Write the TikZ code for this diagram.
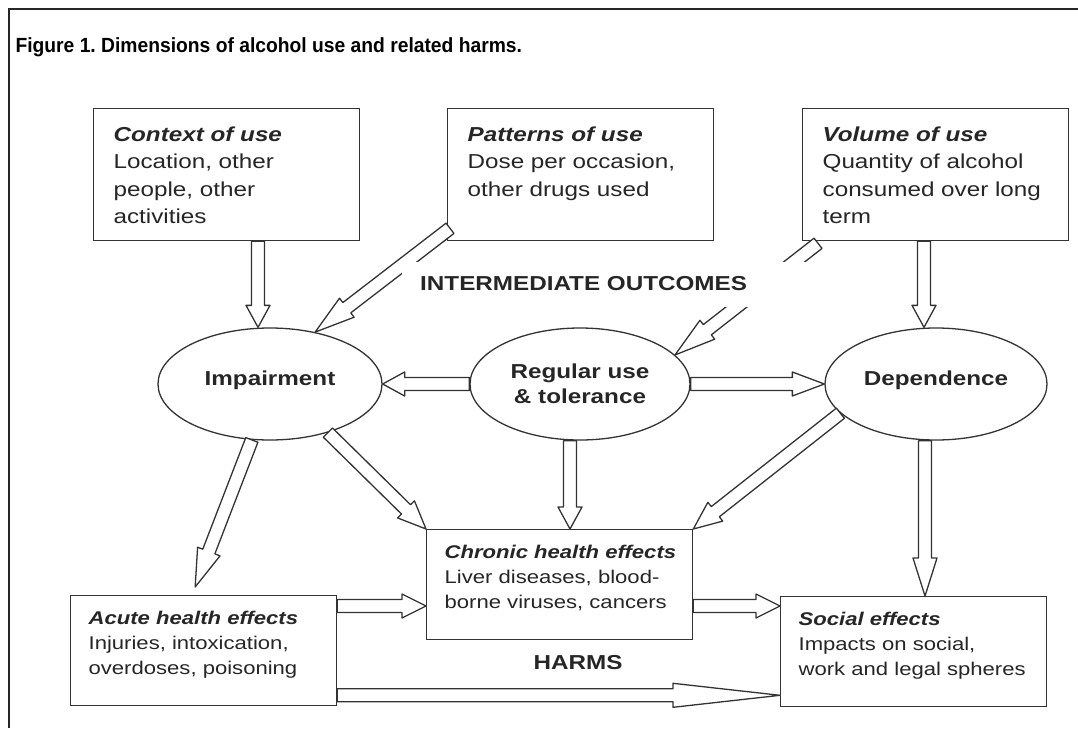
\documentclass[tikz,border=0pt]{standalone}
\usepackage{fontspec}
\setmainfont{Liberation Sans}[FakeStretch=1.2]
\newfontfamily\titlefont{Liberation Sans}[FakeStretch=0.94]
\usepackage{tikz}
\usetikzlibrary{positioning, shapes.geometric, calc}
\frenchspacing

\newcommand{\boxtitle}[1]{\mbox{\textbf{\textit{#1}}}}
\newcommand{\hollowarrow}[3][22pt]{%
  \draw[blockarrow] ($(#2)!6.5pt!90:(#3)$)
    -- ($(#3)!#1!(#2)!6.5pt!-90:(#2)$)
    -- ($(#3)!#1!(#2)!12pt!-90:(#2)$)
    -- (#3)
    -- ($(#3)!#1!(#2)!12pt!90:(#2)$)
    -- ($(#3)!#1!(#2)!6.5pt!90:(#2)$)
    -- ($(#2)!6.5pt!-90:(#3)$) -- cycle;}

\begin{document}
\begin{tikzpicture}[x=1pt, y=-1pt, text=black!85,
    box/.style={draw=black!80, line width=1.3pt, fill=white, anchor=north west,
      align=left, inner ysep=0pt},
    topbox/.style={box, text width=226pt, inner xsep=20pt, text height=32.5pt,
      text depth=99.5pt, font=\fontsize{20.2}{27.5}\selectfont},
    lowbox/.style={box, text width=230pt, inner xsep=18pt, text height=29pt,
      text depth=81pt, font=\fontsize{18.4}{25}\selectfont},
    oval/.style={ellipse, draw=black!80, line width=1.3pt, minimum height=112pt,
      inner sep=0pt, font=\fontsize{20.2}{25}\selectfont\bfseries},
    oneline/.style={text height=15pt, text depth=13pt},
    heading/.style={font=\fontsize{20.2}{25}\selectfont\bfseries},
    blockarrow/.style={draw=black!80, line width=1.3pt, fill=white, line join=round}]

  \useasboundingbox (0,0) rectangle (1078,728);
  \draw[line width=2pt, black!85] (1078,9) -- (9,9) -- (9,728);
  \node[anchor=base west, text=black, font=\titlefont\bfseries\fontsize{20.5}{24}\selectfont]
    (title) at (12,52) {Figure 1. Dimensions of alcohol use and related harms.};

  % dimensions of use
  \node[topbox] (ctx) at (93,108) {\boxtitle{Context of use}\\Location, other\\people, other\\activities};
  \node[topbox] (pat) at (447,108) {\boxtitle{Patterns of use}\\Dose per occasion,\\other drugs used};
  \node[topbox] (vol) at (802,108) {\boxtitle{Volume of use}\\Quantity of alcohol\\consumed over long\\term};

  % intermediate outcomes
  \node[oval, oneline, minimum width=224pt] (imp) at (270,384) {Impairment};
  \node[oval, minimum width=220pt, align=center] (reg) at (580,384) {Regular use\\\& tolerance};
  \node[oval, oneline, minimum width=222pt] (dep) at (936,384) {Dependence};

  % harms
  \node[lowbox] (acu) at (70,595) {\boxtitle{Acute health effects}\\Injuries, intoxication,\\overdoses, poisoning};
  \node[lowbox] (chr) at (426,529) {\boxtitle{Chronic health effects}\\Liver diseases, blood-\\borne viruses, cancers};
  \node[lowbox] (soc) at (780,596) {\boxtitle{Social effects}\\Impacts on social,\\work and legal spheres};

  \coordinate (c1) at ([xshift=-12pt]imp.north);
  \coordinate (p1) at ([shift={(3pt,13pt)}]pat.south west);
  \coordinate (v1) at ([shift={(16pt,-2pt)}]vol.south west);
  \coordinate (c2) at ([xshift=-12pt]dep.north);
  \coordinate (c3) at ([shift={(-8.5pt,8pt)}]acu.north);
  \coordinate (c4) at ([xshift=-10pt]reg.south);
  \coordinate (c5) at ([xshift=-11pt]dep.south);
  \coordinate (c6) at ([yshift=-11pt]acu.north east);
  \coordinate (c7) at ([yshift=11pt]acu.south east);

  \hollowarrow{ctx.south -| c1}{c1}
  \hollowarrow[40pt]{p1}{imp.49}
  \hollowarrow[41pt]{v1}{reg.17}
  \hollowarrow{vol.south -| c2}{c2}
  \hollowarrow{reg.west}{imp.east}
  \hollowarrow[32pt]{reg.east}{dep.west}
  \hollowarrow[38pt]{imp.-108}{c3}
  \hollowarrow[28pt]{imp.-40}{chr.north west}
  \hollowarrow{c4}{chr.north -| c4}
  \hollowarrow[28pt]{dep.-163}{chr.north east}
  \hollowarrow[38pt]{c5}{soc.north -| c5}
  \hollowarrow[24pt]{c6}{chr.west |- c6}
  \hollowarrow[24pt]{chr.east |- c6}{soc.west |- c6}
  \hollowarrow[107pt]{c7}{soc.west |- c7}

  \node[heading, fill=white, anchor=west, align=left, text width=372pt, inner xsep=18pt,
    minimum height=45pt] (mid) at (402,284) {INTERMEDIATE OUTCOMES};
  \node[heading] (harms) at (578,662.5) {HARMS};
\end{tikzpicture}
\end{document}
